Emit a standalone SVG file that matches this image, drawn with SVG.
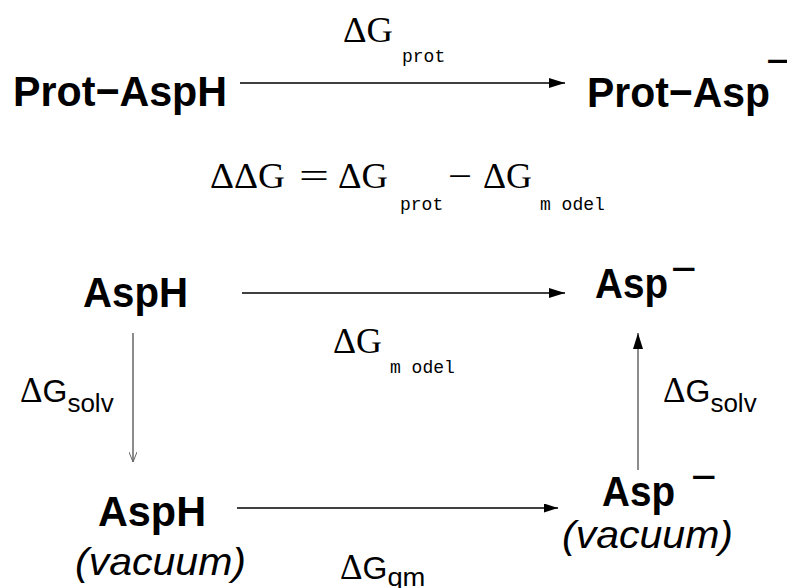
<svg xmlns="http://www.w3.org/2000/svg" width="787" height="588" viewBox="0 0 787 588">
<defs>
<style>
.b{font-family:"Liberation Sans",Arial,sans-serif;font-weight:bold;font-size:43px;fill:#000}
.sup{font-family:"Liberation Sans",Arial,sans-serif;font-size:44px;fill:#000}
.it{font-family:"Liberation Sans",Arial,sans-serif;font-style:italic;font-size:38px;fill:#000}
.m{font-family:"Liberation Serif","Times New Roman",serif;font-size:35px;fill:#000}
.sub{font-family:"Liberation Mono","Courier New",monospace;font-size:18px;fill:#000}
.s{font-family:"Liberation Sans",Arial,sans-serif;font-size:32px;fill:#000}
.ss{font-family:"Liberation Sans",Arial,sans-serif;font-size:26px;fill:#000}
.ln{stroke:#000;stroke-width:1.5;fill:none}
.lg{stroke:#666;stroke-width:1.5;fill:none}
</style>
<marker id="ah" viewBox="0 0 16 10" refX="16" refY="5" markerWidth="16" markerHeight="10" markerUnits="userSpaceOnUse" orient="auto">
<path d="M0,0 L16,5 L0,10 Z" fill="#000"/>
</marker>
<marker id="ahs" viewBox="0 0 14 9" refX="14" refY="4.5" markerWidth="14" markerHeight="9" markerUnits="userSpaceOnUse" orient="auto">
<path d="M0,0 L14,4.5 L0,9 Z" fill="#000"/>
</marker>
<marker id="aho" viewBox="0 0 10 8" refX="10" refY="4" markerWidth="10" markerHeight="8" markerUnits="userSpaceOnUse" orient="auto">
<path d="M0,0 L10,4 L0,8" fill="none" stroke="#666" stroke-width="1"/>
</marker>
</defs>
<rect width="787" height="588" fill="#fff"/>

<g id="prot-asph"><text class="b" x="13" y="106" textLength="214" lengthAdjust="spacingAndGlyphs">Prot−AspH</text></g>
<g id="prot-asp"><text class="b" x="587" y="107" textLength="183" lengthAdjust="spacingAndGlyphs">Prot−Asp</text><text class="sup" x="766" y="76">−</text></g>

<g id="equation">
<text class="m" x="210" y="188" textLength="75" lengthAdjust="spacingAndGlyphs">ΔΔG</text>
<text class="m" x="299" y="188" textLength="30" lengthAdjust="spacingAndGlyphs">=</text>
<text class="m" x="338" y="188" textLength="50" lengthAdjust="spacingAndGlyphs">ΔG</text>
<text class="sub" x="400" y="210">prot</text>
<text class="m" x="448" y="188" textLength="24" lengthAdjust="spacingAndGlyphs">−</text>
<text class="m" x="483" y="188" textLength="49" lengthAdjust="spacingAndGlyphs">ΔG</text>
<text class="sub" x="540" y="210">m odel</text>
</g>

<g id="asph"><text class="b" x="83" y="307" textLength="105" lengthAdjust="spacingAndGlyphs">AspH</text></g>
<g id="asp"><text class="b" x="595" y="298" textLength="73" lengthAdjust="spacingAndGlyphs">Asp</text><text class="sup" x="671" y="284">−</text></g>
<g id="asph-vac"><text class="b" x="98" y="526" textLength="108" lengthAdjust="spacingAndGlyphs">AspH</text><text class="it" x="75" y="575" textLength="171" lengthAdjust="spacingAndGlyphs">(vacuum)</text></g>
<g id="asp-vac"><text class="b" x="602" y="506" textLength="73" lengthAdjust="spacingAndGlyphs">Asp</text><text class="sup" x="691" y="492">−</text><text class="it" x="562" y="548" textLength="171" lengthAdjust="spacingAndGlyphs">(vacuum)</text></g>

<g id="connectors">
<line class="ln" x1="240" y1="83" x2="565" y2="83" marker-end="url(#ah)"/>
<line class="ln" x1="242" y1="293" x2="565" y2="293" marker-end="url(#ah)"/>
<line class="ln" x1="237" y1="508" x2="558" y2="508" marker-end="url(#ahs)"/>
<line class="lg" x1="133" y1="333" x2="133" y2="462" marker-end="url(#aho)"/>
<line class="lg" x1="638" y1="470" x2="638" y2="333" marker-end="url(#ah)"/>
</g>

<g id="labels">
<text class="m" x="343" y="42" textLength="50" lengthAdjust="spacingAndGlyphs">ΔG</text>
<text class="sub" x="402" y="62">prot</text>
<text class="m" x="333" y="353" textLength="49" lengthAdjust="spacingAndGlyphs">ΔG</text>
<text class="sub" x="390" y="373">m odel</text>
<text x="20" y="402"><tspan class="m" font-size="33">Δ</tspan><tspan class="s">G</tspan><tspan class="ss" dy="10">solv</tspan></text>
<text x="663" y="402"><tspan class="m" font-size="33">Δ</tspan><tspan class="s">G</tspan><tspan class="ss" dy="10">solv</tspan></text>
<text x="340" y="579"><tspan class="m" font-size="29">Δ</tspan><tspan class="s" font-size="27">G</tspan><tspan class="ss" dy="7" textLength="38" lengthAdjust="spacingAndGlyphs">qm</tspan></text>
</g>
</svg>
